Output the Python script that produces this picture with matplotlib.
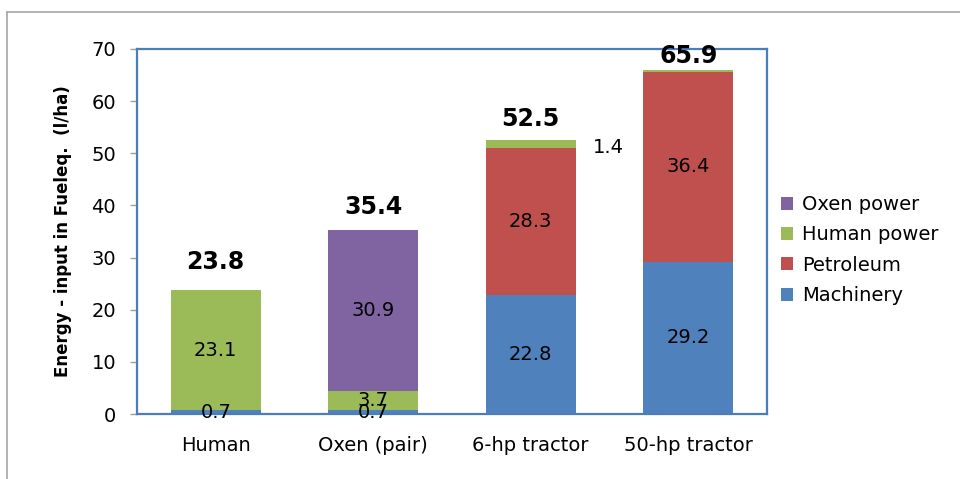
import matplotlib
matplotlib.use("Agg")
import matplotlib.pyplot as plt
from matplotlib.lines import Line2D
import numpy as np

plt.rcParams['font.family'] = ['DejaVu Sans']

categories = ["Human", "Oxen (pair)", "6-hp tractor", "50-hp tractor"]
machinery = [0.7, 0.7, 22.8, 29.2]
petroleum = [0.0, 0.0, 28.3, 36.4]
human_power = [23.1, 3.7, 1.4, 0.3]
oxen_power = [0.0, 30.9, 0.0, 0.0]
totals = ["23.8", "35.4", "52.5", "65.9"]
total_label_y = [29.2, 39.7, 56.6, 68.6]

colors = {
    "Machinery": "#4F81BD",
    "Petroleum": "#C0504D",
    "Human power": "#9BBB59",
    "Oxen power": "#8064A2",
}

FS = 14

fig = plt.figure(figsize=(9.6, 4.79), dpi=100)
ax = fig.add_axes([137/960, 1-414/479, (767-137)/960, (414-49)/479])

x = np.arange(len(categories))
w = 0.57
series = [("Machinery", machinery), ("Petroleum", petroleum),
          ("Human power", human_power), ("Oxen power", oxen_power)]
bottom = np.zeros(len(categories))
handles = {}
for name, vals in series:
    vals = np.array(vals)
    b = ax.bar(x, vals, w, bottom=bottom, color=colors[name], label=name,
               edgecolor='none', zorder=2)
    handles[name] = b
    for i, v in enumerate(vals):
        if v <= 0:
            continue
        if name == "Human power" and i == 2:
            ax.text(2.495, 51.1, f"{v:.1f}", ha='center', va='center', fontsize=FS)
        elif name == "Human power" and i == 3:
            pass
        else:
            ax.text(x[i], bottom[i] + v/2, f"{v:.1f}", ha='center', va='center',
                    fontsize=FS, color='black', zorder=3)
    bottom += vals

for i, t in enumerate(totals):
    ax.text(x[i], total_label_y[i], t, ha='center', va='center', fontsize=17,
            fontweight='bold', zorder=4)

ax.set_xlim(-0.5, 3.5)
ax.set_ylim(0, 70)
ax.set_yticks(range(0, 71, 10))
ax.set_xticks(x)
ax.set_xticklabels(categories, fontsize=FS)
ax.tick_params(axis='x', length=0, pad=16)
ax.tick_params(axis='y', length=5, color='#A0A0A0', width=1, labelsize=FS, pad=10)
for s in ax.spines.values():
    s.set_color('#4A7EBB')
    s.set_linewidth(1.6)
ax.set_ylabel("Energy - input in Fueleq.  (l/ha)", fontsize=12, fontweight='bold',
              labelpad=14)

order = ["Oxen power", "Human power", "Petroleum", "Machinery"]
leg = fig.legend([handles[n] for n in order], order, loc='center left',
                 bbox_to_anchor=(773/960, 1-250/479), frameon=False, fontsize=FS,
                 handlelength=0.65, handleheight=0.65, handletextpad=0.45,
                 labelspacing=0.58, borderaxespad=0)

# outer frame lines
fig.add_artist(Line2D([7/960, 7/960], [0, 1-12/479], transform=fig.transFigure,
                      color='#A6A6A6', lw=1.2))
fig.add_artist(Line2D([7/960, 1], [1-12/479, 1-12/479], transform=fig.transFigure,
                      color='#A6A6A6', lw=1.2))

fig.savefig("out.png", dpi=100)
